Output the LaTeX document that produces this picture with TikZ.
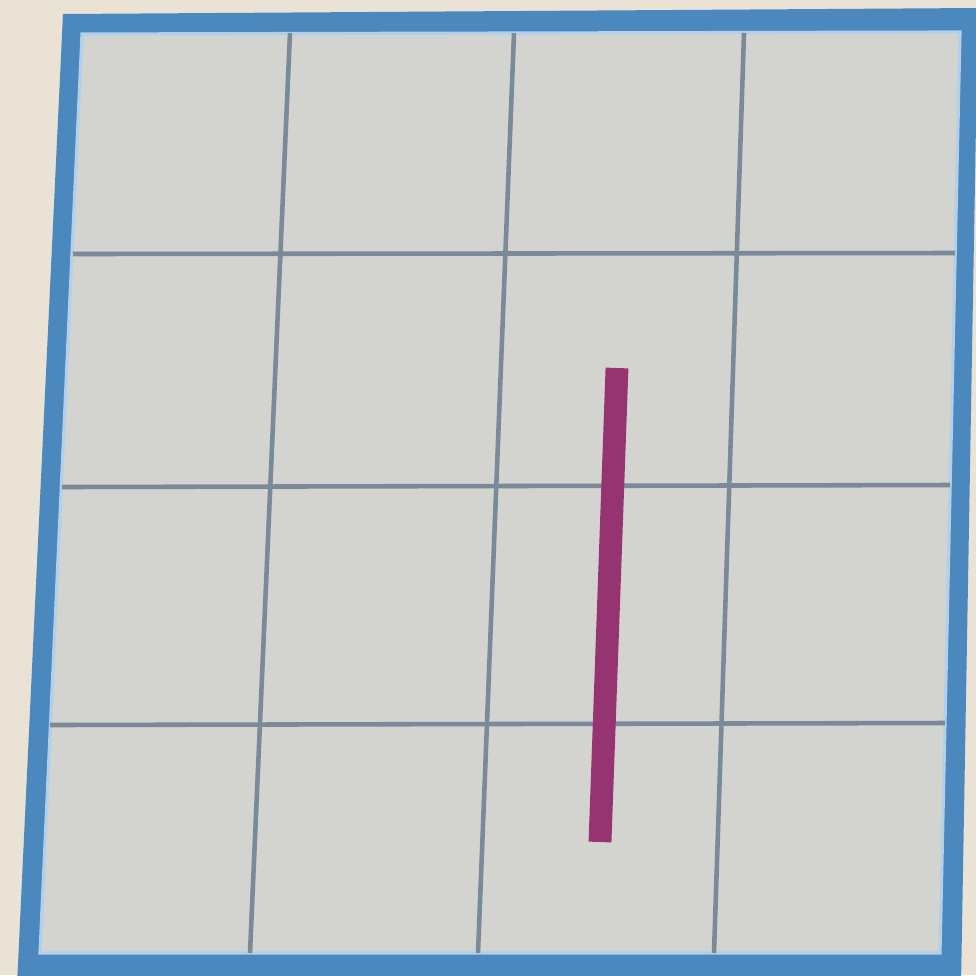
\documentclass[tikz,border=0pt]{standalone}
\usepackage{xcolor}
\usepackage{tikz}
\definecolor{paper}{RGB}{234,226,212}
\definecolor{board}{RGB}{211,211,207}
\definecolor{frameblue}{RGB}{74,136,190}
\definecolor{edgeblue}{RGB}{178,208,234}
\definecolor{gridgray}{RGB}{122,138,152}
\definecolor{rodpurple}{RGB}{150,52,114}

\begin{document}
\begin{tikzpicture}[x=0.01cm, y=-0.01cm,
    gridline/.style={draw=gridgray, line width=1.3pt}]
    \useasboundingbox (0,0) rectangle (976,975);
    \clip (0,0) rectangle (976,975);
    \fill[paper] (0,0) rectangle (976,975);
    % blue frame and board
    \fill[frameblue] (63,14) -- (978,8) -- (961,985) -- (17,985) -- cycle;
    \fill[board, draw=edgeblue, line width=0.9pt]
          (82,34) -- (960,32) -- (940,953) -- (40,953) -- cycle;
    % grid lines
    \foreach \xa/\xb in {290/250, 514/478, 744/714}
      \draw[gridline] (\xa,33) -- (\xb,953);
    \foreach \ya/\yb/\xl/\xr in {254/253/73/955, 487/485/62/950, 725/723/50/945}
      \draw[gridline] (\xl,\ya) -- (\xr,\yb);
    % the rod
    \draw[rodpurple, line width=6.5pt] (617,368) -- (600,842);
  \end{tikzpicture}
\end{document}
